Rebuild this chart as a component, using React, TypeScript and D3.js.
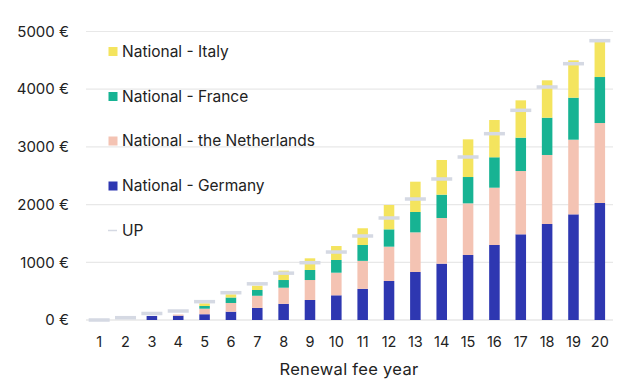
import React from "react";
import * as d3 from "d3";

const years = ["1","2","3","4","5","6","7","8","9","10","11","12","13","14","15","16","17","18","19","20"];
const germany = [0, 0, 70, 75, 100, 144, 210, 280, 347, 428, 540, 676, 832, 976, 1127, 1300, 1485, 1664, 1831, 2028];
const netherlands = [0, 0, 0, 20, 96, 151, 210, 280, 346, 392, 485, 595, 687, 792, 895, 993, 1097, 1196, 1294, 1386];
const france = [0, 0, 0, 0, 47, 95, 100, 133, 174, 220, 275, 300, 353, 404, 456, 527, 578, 646, 728, 797];
const italy = [0, 0, 0, 0, 46, 55, 75, 162, 202, 242, 290, 422, 525, 601, 653, 646, 647, 648, 647, 612];
const up = [0, 40, 113, 156, 318, 473, 627, 812, 993, 1178, 1456, 1768, 2097, 2444, 2825, 3229, 3634, 4038, 4442, 4841];
const yTicks = [0, 1000, 2000, 3000, 4000, 5000];

const seriesNames = ["National - Germany", "National - the Netherlands", "National - France", "National - Italy"];
const colors = ["#2e37b1", "#f4c3b3", "#17b393", "#f4e45e"];
const upColor = "#d5d9e3";

export default function App() {
  const width = 624, height = 388;
  const left = 86, right = 613, top = 31.5, bottom = 320;
  const font = "Inter, 'Noto Sans', sans-serif";

  const x = d3.scaleBand<string>().domain(years).range([left, right]).paddingInner(0.6).paddingOuter(0.3);
  const y = d3.scaleLinear().domain([0, 5000]).range([bottom, top]);

  const data = years.map((yr, i) => ({ year: yr, g: germany[i], n: netherlands[i], f: france[i], it: italy[i] }));
  const stack = d3.stack<any>().keys(["g", "n", "f", "it"]);
  const stacked = stack(data);

  const legendOrder = [3, 2, 1, 0];
  const legendY = [51.5, 96.5, 141, 186];

  return (
    <svg width={width} height={height} style={{ position: "absolute", left: 0, top: 0, background: "#fff" }} fontFamily={font}>
      {yTicks.map((t) => (
        <g key={t}>
          <line x1={left} x2={right} y1={y(t)} y2={y(t)} stroke={t === 0 ? "#dcdcdc" : "#e8e8e8"} strokeWidth={1.2} />
          <text x={69} y={y(t)} dy="0.35em" textAnchor="end" fontSize={15} fill="#222">{`${t} €`}</text>
        </g>
      ))}
      {stacked.map((s, si) => (
        <g key={si} fill={colors[si]}>
          {s.map((d, i) => {
            const h = y(d[0]) - y(d[1]);
            if (h <= 0) return null;
            return <rect key={i} x={x(years[i])!} y={y(d[1])} width={x.bandwidth()} height={h} />;
          })}
        </g>
      ))}
      {years.map((yr, i) => (
        <rect key={yr} x={x(yr)! + x.bandwidth() / 2 - 10.5} y={y(up[i]) - 1.75} width={21} height={3.5} fill={upColor} />
      ))}
      {years.map((yr) => (
        <text key={yr} x={x(yr)! + x.bandwidth() / 2} y={342} dy="0.35em" textAnchor="middle" fontSize={14.5} fill="#222">{yr}</text>
      ))}
      <text x={349} y={369} dy="0.35em" textAnchor="middle" fontSize={16.5} letterSpacing={0.3} fill="#222">Renewal fee year</text>
      {legendOrder.map((si, k) => (
        <g key={si}>
          <rect x={108.5} y={legendY[k] - 4.5} width={9} height={9} fill={colors[si]} />
          <text x={122} y={legendY[k]} dy="0.35em" fontSize={15.5} fill="#222">{seriesNames[si]}</text>
        </g>
      ))}
      <line x1={108} x2={117} y1={230.5} y2={230.5} stroke={upColor} strokeWidth={1.5} />
      <text x={122} y={230.5} dy="0.35em" fontSize={15.5} fill="#222">UP</text>
    </svg>
  );
}
